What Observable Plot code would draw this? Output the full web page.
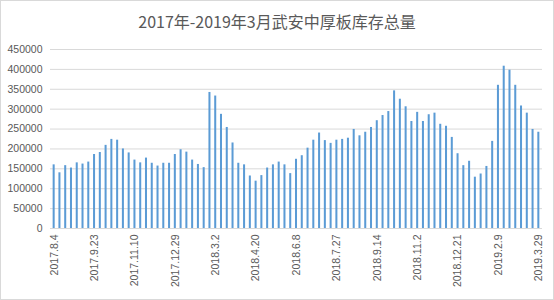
<!DOCTYPE html>
<html>
<head>
<meta charset="utf-8">
<script src="https://cdn.jsdelivr.net/npm/d3@7"></script>
<script src="https://cdn.jsdelivr.net/npm/@observablehq/plot@0.6"></script>
<style>
  html, body { margin: 0; padding: 0; background: #fff; }
  #chart { position: relative; width: 554px; height: 300px; box-shadow: inset 0 0 0 1px #d9d9d9; overflow: hidden; }
  #title { position: absolute; left: 0; top: 10px; width: 554px; text-align: center; font: 16px "Noto Sans CJK SC", "Noto Sans", sans-serif; line-height: 22px; color: #595959; }
  #plot { position: absolute; left: 0; top: 34px; }
</style>
</head>
<body>
<div id="chart">
  <div id="title">2017年-2019年3月武安中厚板库存总量</div>
  <div id="plot"></div>
</div>
<script>
const title = "2017年-2019年3月武安中厚板库存总量";

// weekly inventory (tons), 85 weeks from 2017.8.4 to 2019.3.29
const inventory = [
  160000, 140000, 158000, 152000, 165000, 162000, 167000, 186000, 191000, 209000,
  224000, 222000, 200000, 190000, 172000, 165000, 177000, 164000, 157000, 164000,
  164000, 186000, 198000, 192000, 172000, 161000, 153000, 342000, 333000, 287000,
  254000, 215000, 164000, 160000, 132000, 119000, 133000, 152000, 160000, 167000,
  160000, 138000, 174000, 183000, 202000, 222000, 240000, 221000, 214000, 222000,
  224000, 227000, 249000, 233000, 242000, 254000, 271000, 284000, 294000, 346000,
  325000, 306000, 269000, 292000, 269000, 286000, 290000, 262000, 257000, 229000,
  188000, 158000, 169000, 129000, 137000, 156000, 219000, 360000, 408000, 398000,
  360000, 308000, 290000, 249000, 242000
];

// tick labels shown on the category axis and the week they belong to
const tickWeeks = [0, 7, 14, 21, 28, 35, 42, 49, 56, 63, 70, 77, 84];
const tickLabels = [
  "2017.8.4", "2017.9.23", "2017.11.10", "2017.12.29", "2018.3.2", "2018.4.20",
  "2018.6.8", "2018.7.27", "2018.9.14", "2018.11.2", "2018.12.21", "2019.2.9", "2019.3.29"
];

const yTicks = [0, 50000, 100000, 150000, 200000, 250000, 300000, 350000, 400000, 450000];

const weeks = inventory.map((_, i) => i);
const data = weeks.map(i => ({week: i, value: inventory[i]}));

const chart = Plot.plot({
  width: 554,
  height: 266,
  marginLeft: 50,
  marginRight: 12,
  marginTop: 15,
  marginBottom: 72,
  style: {fontFamily: "'Liberation Sans', Arial, sans-serif", fontSize: "10.5px", color: "#595959", background: "transparent"},
  x: {type: "band", domain: weeks, paddingInner: 0.65, paddingOuter: 0.46},
  y: {domain: [0, 450000]},
  marks: [
    Plot.gridY(yTicks, {stroke: "#d9d9d9", strokeOpacity: 1}),
    Plot.ruleY([0], {stroke: "#d9d9d9"}),
    Plot.barY(data, {x: "week", y: "value", fill: "#5B9BD5"}),
    Plot.axisY({ticks: yTicks, tickFormat: d => String(d), tickSize: 0, tickPadding: 8, label: null, fill: "#595959"}),
    Plot.axisX({ticks: tickWeeks, tickFormat: i => tickLabels[tickWeeks.indexOf(i)], tickRotate: -90, tickSize: 0, tickPadding: 6, label: null, fill: "#595959", fontSize: 10.5})
  ]
});
document.getElementById("plot").appendChild(chart);
</script>
</body>
</html>
